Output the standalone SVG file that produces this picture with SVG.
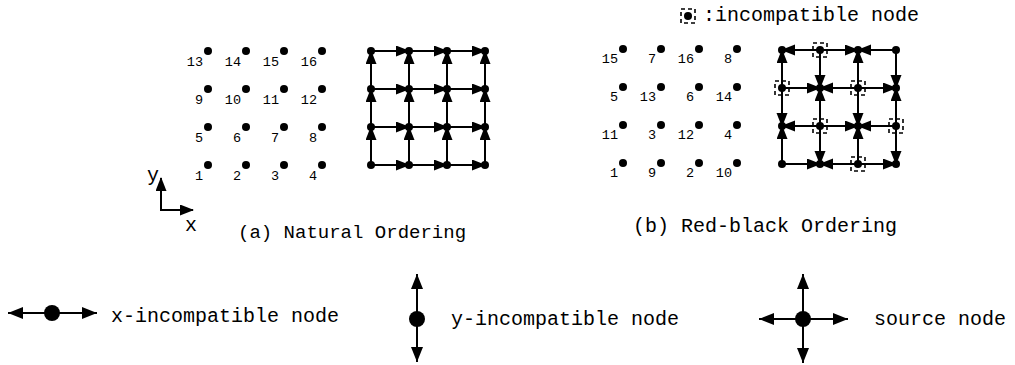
<svg xmlns="http://www.w3.org/2000/svg" width="1015" height="365" viewBox="0 0 1015 365">
<style>
text{font-family:"Liberation Mono","Courier New",monospace;fill:#000}
.num{font-size:13.5px;text-anchor:end}
.lbl{font-size:20px}
.cap{font-size:19px}
.dot{fill:#000}
.e{stroke:#000;stroke-width:2;fill:none;marker-end:url(#ah)}
.box{fill:none;stroke:#000;stroke-width:1.6;stroke-dasharray:4 3}
.lg{stroke:#000;stroke-width:2;fill:none;marker-end:url(#ahL)}
</style>
<defs>
<marker id="ah" markerUnits="userSpaceOnUse" markerWidth="15" markerHeight="12" refX="13" refY="5.5" orient="auto">
<path d="M0,0 L14,5.5 L0,11 z" fill="#000"/>
</marker>
<marker id="ahL" markerUnits="userSpaceOnUse" markerWidth="16" markerHeight="13" refX="15" refY="6" orient="auto">
<path d="M0,0 L15,6 L0,12 z" fill="#000"/>
</marker>
</defs>
<rect width="1015" height="365" fill="#fff"/>

<!-- (a) natural ordering numbering -->
<g id="nat-numbers">
<g id="nat-13"><circle class="dot" cx="208" cy="51" r="4"/><text class="num" x="203" y="66">13</text></g>
<g id="nat-14"><circle class="dot" cx="246" cy="51" r="4"/><text class="num" x="241" y="66">14</text></g>
<g id="nat-15"><circle class="dot" cx="284" cy="51" r="4"/><text class="num" x="279" y="66">15</text></g>
<g id="nat-16"><circle class="dot" cx="322" cy="51" r="4"/><text class="num" x="317" y="66">16</text></g>
<g id="nat-9"><circle class="dot" cx="208" cy="89" r="4"/><text class="num" x="203" y="104">9</text></g>
<g id="nat-10"><circle class="dot" cx="246" cy="89" r="4"/><text class="num" x="241" y="104">10</text></g>
<g id="nat-11"><circle class="dot" cx="284" cy="89" r="4"/><text class="num" x="279" y="104">11</text></g>
<g id="nat-12"><circle class="dot" cx="322" cy="89" r="4"/><text class="num" x="317" y="104">12</text></g>
<g id="nat-5"><circle class="dot" cx="208" cy="127" r="4"/><text class="num" x="203" y="142">5</text></g>
<g id="nat-6"><circle class="dot" cx="246" cy="127" r="4"/><text class="num" x="241" y="142">6</text></g>
<g id="nat-7"><circle class="dot" cx="284" cy="127" r="4"/><text class="num" x="279" y="142">7</text></g>
<g id="nat-8"><circle class="dot" cx="322" cy="127" r="4"/><text class="num" x="317" y="142">8</text></g>
<g id="nat-1"><circle class="dot" cx="208" cy="165" r="4"/><text class="num" x="203" y="180">1</text></g>
<g id="nat-2"><circle class="dot" cx="246" cy="165" r="4"/><text class="num" x="241" y="180">2</text></g>
<g id="nat-3"><circle class="dot" cx="284" cy="165" r="4"/><text class="num" x="279" y="180">3</text></g>
<g id="nat-4"><circle class="dot" cx="322" cy="165" r="4"/><text class="num" x="317" y="180">4</text></g>
</g>

<!-- axes -->
<g id="axes">
<path d="M161,210 L161,178" style="stroke:#000;stroke-width:2;marker-end:url(#ah)"/>
<path d="M160,210 L193,210" style="stroke:#000;stroke-width:2;marker-end:url(#ah)"/>
<text class="lbl" x="153" y="181" text-anchor="middle">y</text>
<text class="lbl" x="191" y="231" text-anchor="middle">x</text>
</g>

<!-- (b) red-black numbering -->
<g id="rb-numbers">
<g id="rb-15"><circle class="dot" cx="623" cy="49" r="4"/><text class="num" x="618" y="63">15</text></g>
<g id="rb-7"><circle class="dot" cx="661" cy="49" r="4"/><text class="num" x="656" y="63">7</text></g>
<g id="rb-16"><circle class="dot" cx="699" cy="49" r="4"/><text class="num" x="694" y="63">16</text></g>
<g id="rb-8"><circle class="dot" cx="737" cy="49" r="4"/><text class="num" x="732" y="63">8</text></g>
<g id="rb-5"><circle class="dot" cx="623" cy="87" r="4"/><text class="num" x="618" y="101">5</text></g>
<g id="rb-13"><circle class="dot" cx="661" cy="87" r="4"/><text class="num" x="656" y="101">13</text></g>
<g id="rb-6"><circle class="dot" cx="699" cy="87" r="4"/><text class="num" x="694" y="101">6</text></g>
<g id="rb-14"><circle class="dot" cx="737" cy="87" r="4"/><text class="num" x="732" y="101">14</text></g>
<g id="rb-11"><circle class="dot" cx="623" cy="125" r="4"/><text class="num" x="618" y="139">11</text></g>
<g id="rb-3"><circle class="dot" cx="661" cy="125" r="4"/><text class="num" x="656" y="139">3</text></g>
<g id="rb-12"><circle class="dot" cx="699" cy="125" r="4"/><text class="num" x="694" y="139">12</text></g>
<g id="rb-4"><circle class="dot" cx="737" cy="125" r="4"/><text class="num" x="732" y="139">4</text></g>
<g id="rb-1"><circle class="dot" cx="623" cy="163" r="4"/><text class="num" x="618" y="177">1</text></g>
<g id="rb-9"><circle class="dot" cx="661" cy="163" r="4"/><text class="num" x="656" y="177">9</text></g>
<g id="rb-2"><circle class="dot" cx="699" cy="163" r="4"/><text class="num" x="694" y="177">2</text></g>
<g id="rb-10"><circle class="dot" cx="737" cy="163" r="4"/><text class="num" x="732" y="177">10</text></g>
</g>

<!-- connectors -->
<g id="connectors">
<path class="e" d="M371,51 L409,51"/><path class="e" d="M409,51 L447,51"/><path class="e" d="M447,51 L485,51"/>
<path class="e" d="M371,89 L409,89"/><path class="e" d="M409,89 L447,89"/><path class="e" d="M447,89 L485,89"/>
<path class="e" d="M371,127 L409,127"/><path class="e" d="M409,127 L447,127"/><path class="e" d="M447,127 L485,127"/>
<path class="e" d="M371,165 L409,165"/><path class="e" d="M409,165 L447,165"/><path class="e" d="M447,165 L485,165"/>
<path class="e" d="M371,89 L371,51"/><path class="e" d="M371,127 L371,89"/><path class="e" d="M371,165 L371,127"/>
<path class="e" d="M409,89 L409,51"/><path class="e" d="M409,127 L409,89"/><path class="e" d="M409,165 L409,127"/>
<path class="e" d="M447,89 L447,51"/><path class="e" d="M447,127 L447,89"/><path class="e" d="M447,165 L447,127"/>
<path class="e" d="M485,89 L485,51"/><path class="e" d="M485,127 L485,89"/><path class="e" d="M485,165 L485,127"/>
<path class="e" d="M820,50 L782,50"/><path class="e" d="M820,50 L858,50"/><path class="e" d="M896,50 L858,50"/>
<path class="e" d="M782,88 L820,88"/><path class="e" d="M858,88 L820,88"/><path class="e" d="M858,88 L896,88"/>
<path class="e" d="M820,126 L782,126"/><path class="e" d="M820,126 L858,126"/><path class="e" d="M896,126 L858,126"/>
<path class="e" d="M782,164 L820,164"/><path class="e" d="M858,164 L820,164"/><path class="e" d="M858,164 L896,164"/>
<path class="e" d="M782,88 L782,50"/><path class="e" d="M782,88 L782,126"/><path class="e" d="M782,164 L782,126"/>
<path class="e" d="M820,50 L820,88"/><path class="e" d="M820,126 L820,88"/><path class="e" d="M820,126 L820,164"/>
<path class="e" d="M858,88 L858,50"/><path class="e" d="M858,88 L858,126"/><path class="e" d="M858,164 L858,126"/>
<path class="e" d="M896,50 L896,88"/><path class="e" d="M896,126 L896,88"/><path class="e" d="M896,126 L896,164"/>
</g>

<!-- natural ordering graph nodes -->
<g id="nat-graph">
<g id="ng-13"><circle class="dot" cx="371" cy="51" r="4"/></g>
<g id="ng-14"><circle class="dot" cx="409" cy="51" r="4"/></g>
<g id="ng-15"><circle class="dot" cx="447" cy="51" r="4"/></g>
<g id="ng-16"><circle class="dot" cx="485" cy="51" r="4"/></g>
<g id="ng-9"><circle class="dot" cx="371" cy="89" r="4"/></g>
<g id="ng-10"><circle class="dot" cx="409" cy="89" r="4"/></g>
<g id="ng-11"><circle class="dot" cx="447" cy="89" r="4"/></g>
<g id="ng-12"><circle class="dot" cx="485" cy="89" r="4"/></g>
<g id="ng-5"><circle class="dot" cx="371" cy="127" r="4"/></g>
<g id="ng-6"><circle class="dot" cx="409" cy="127" r="4"/></g>
<g id="ng-7"><circle class="dot" cx="447" cy="127" r="4"/></g>
<g id="ng-8"><circle class="dot" cx="485" cy="127" r="4"/></g>
<g id="ng-1"><circle class="dot" cx="371" cy="165" r="4"/></g>
<g id="ng-2"><circle class="dot" cx="409" cy="165" r="4"/></g>
<g id="ng-3"><circle class="dot" cx="447" cy="165" r="4"/></g>
<g id="ng-4"><circle class="dot" cx="485" cy="165" r="4"/></g>
</g>

<!-- red-black graph nodes -->
<g id="rb-graph">
<g id="rg-15"><circle class="dot" cx="782" cy="50" r="4"/></g>
<g id="rg-7"><circle class="dot" cx="820" cy="50" r="4"/><rect class="box" x="813" y="43" width="14" height="14"/></g>
<g id="rg-16"><circle class="dot" cx="858" cy="50" r="4"/></g>
<g id="rg-8"><circle class="dot" cx="896" cy="50" r="4"/></g>
<g id="rg-5"><circle class="dot" cx="782" cy="88" r="4"/><rect class="box" x="775" y="81" width="14" height="14"/></g>
<g id="rg-13"><circle class="dot" cx="820" cy="88" r="4"/></g>
<g id="rg-6"><circle class="dot" cx="858" cy="88" r="4"/><rect class="box" x="851" y="81" width="14" height="14"/></g>
<g id="rg-14"><circle class="dot" cx="896" cy="88" r="4"/></g>
<g id="rg-11"><circle class="dot" cx="782" cy="126" r="4"/></g>
<g id="rg-3"><circle class="dot" cx="820" cy="126" r="4"/><rect class="box" x="813" y="119" width="14" height="14"/></g>
<g id="rg-12"><circle class="dot" cx="858" cy="126" r="4"/></g>
<g id="rg-4"><circle class="dot" cx="896" cy="126" r="4"/><rect class="box" x="889" y="119" width="14" height="14"/></g>
<g id="rg-1"><circle class="dot" cx="782" cy="164" r="4"/></g>
<g id="rg-9"><circle class="dot" cx="820" cy="164" r="4"/></g>
<g id="rg-2"><circle class="dot" cx="858" cy="164" r="4"/><rect class="box" x="851" y="157" width="14" height="14"/></g>
<g id="rg-10"><circle class="dot" cx="896" cy="164" r="4"/></g>
</g>

<!-- captions -->
<text class="cap" x="238" y="238">(a) Natural Ordering</text>
<text class="lbl" x="633" y="232">(b) Red-black Ordering</text>

<!-- top legend -->
<g id="legend-incompatible">
<circle class="dot" cx="688" cy="16" r="4"/>
<rect class="box" x="681" y="9" width="14" height="14"/>
<text class="lbl" x="703" y="21">:incompatible node</text>
</g>

<!-- bottom legend -->
<g id="legend-x">
<path class="lg" d="M52,313 L8,313"/>
<path class="lg" d="M52,313 L97,313"/>
<circle class="dot" cx="52" cy="313" r="8"/>
<text class="lbl" x="111" y="322">x-incompatible node</text>
</g>
<g id="legend-y">
<path class="lg" d="M417,319 L417,274"/>
<path class="lg" d="M417,319 L417,362"/>
<circle class="dot" cx="417" cy="319" r="8"/>
<text class="lbl" x="451" y="325">y-incompatible node</text>
</g>
<g id="legend-source">
<path class="lg" d="M803,319 L759,319"/>
<path class="lg" d="M803,319 L848,319"/>
<path class="lg" d="M803,319 L803,274"/>
<path class="lg" d="M803,319 L803,363"/>
<circle class="dot" cx="803" cy="319" r="8"/>
<text class="lbl" x="874" y="325">source node</text>
</g>
</svg>
